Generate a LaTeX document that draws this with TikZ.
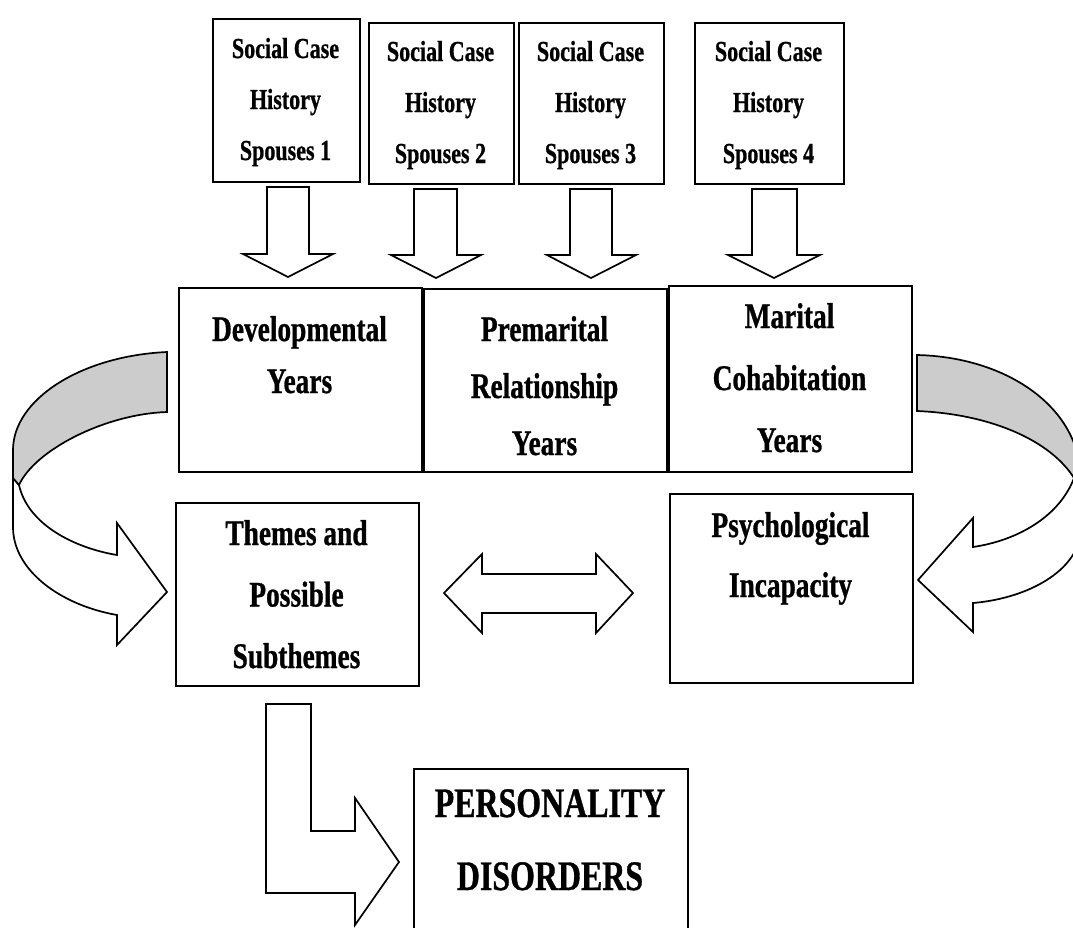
\documentclass[tikz,border=0pt]{standalone}
\usepackage{fontspec}
\newfontfamily\dfont{Liberation Serif}[FakeStretch=0.76,FakeBold=0.8]
\newcommand\fsz[2]{\fontsize{#1}{#2}\selectfont\dfont\bfseries}
\definecolor{bandgray}{RGB}{204,204,204}
\tikzset{
  box/.style={draw, line width=2pt, inner sep=0pt, anchor=north west},
  lbl/.style={align=center, anchor=base, inner sep=0pt},
  blk/.style={draw, line width=1.7pt, fill=white, line join=miter},
  band/.style={draw, line width=1.7pt, fill=bandgray, line join=miter}
}
\begin{document}
\begin{tikzpicture}[x=1pt,y=-1pt]
\useasboundingbox (0,0) rectangle (1073,927);
\begin{scope}
\clip (0,0) rectangle (1073,927);
\fill[white] (0,0) rectangle (1073,927);
% top boxes
\node[box, minimum width=147pt, minimum height=163pt] (s1) at (212,18) {};
\node[box, minimum width=145pt, minimum height=161pt] (s2) at (368,22) {};
\node[box, minimum width=145pt, minimum height=161pt] (s3) at (518,22) {};
\node[box, minimum width=149pt, minimum height=161pt] (s4) at (694,22) {};
\node[lbl, font=\fsz{29}{51}] (t1) at (285.5,160) {Social Case\\History\\Spouses 1};
\node[lbl, font=\fsz{29}{51}] (t2) at (440.5,163) {Social Case\\History\\Spouses 2};
\node[lbl, font=\fsz{29}{51}] (t3) at (590.5,163) {Social Case\\History\\Spouses 3};
\node[lbl, font=\fsz{29}{51}] (t4) at (768.5,163) {Social Case\\History\\Spouses 4};
% down arrows
\draw[blk] (267,187) -- (267,254) -- (243,254) -- (288,277) -- (333,254) -- (309,254) -- (309,187) -- cycle;
\draw[blk] (414,189) -- (414,255) -- (391,255) -- (436,278) -- (481,255) -- (457,255) -- (457,189) -- cycle;
\draw[blk] (570,189) -- (570,255) -- (547,255) -- (591,278) -- (636,255) -- (612,255) -- (612,189) -- cycle;
\draw[blk] (752,189) -- (752,255) -- (728,255) -- (774,278) -- (820,255) -- (797,255) -- (797,189) -- cycle;
% middle boxes
\node[box, minimum width=243pt, minimum height=184pt] (dev) at (178,287) {};
\node[box, minimum width=243pt, minimum height=183pt] (pre) at (423,288) {};
\node[box, minimum width=243pt, minimum height=186pt] (mar) at (668,285) {};
\node[lbl, font=\fsz{36}{52}] (td) at (299.5,393) {Developmental\\Years};
\node[lbl, font=\fsz{36}{57}] (tp) at (544.5,455) {Premarital\\Relationship\\Years};
\node[lbl, font=\fsz{36}{62}] (tm) at (789.5,452) {Marital\\Cohabitation\\Years};
% lower boxes
\node[box, minimum width=243pt, minimum height=183pt] (thm) at (175,502) {};
\node[box, minimum width=243pt, minimum height=189pt] (psy) at (669,493) {};
\node[lbl, font=\fsz{36}{61.5}] (tt) at (296.5,668) {Themes and\\Possible\\Subthemes};
\node[lbl, font=\fsz{36}{60}] (ty) at (790.5,597) {Psychological\\Incapacity};
% personality box
\node[box, minimum width=274pt, minimum height=180pt] (per) at (413,768) {};
\node[lbl, font=\fsz{42}{73}] (tz) at (550,890) {PERSONALITY\\DISORDERS};
% double arrow
\draw[blk] (444,593) -- (482,554) -- (482,574) -- (596,574) -- (596,554) -- (633,593) -- (596,633) -- (596,613) -- (482,613) -- (482,633) -- cycle;
% bent arrow
\draw[blk] (266,704) -- (311,704) -- (311,831) -- (355,831) -- (355,798) -- (399,862) -- (355,925) -- (355,893) -- (266,893) -- cycle;
% left curved arrow
\draw[blk] (19,485) .. controls (28,525) and (75,548) .. (117,555) -- (117,523) -- (167,592) -- (117,645) -- (117,615) .. controls (60,605) and (13,570) .. (13,527) -- (13,478) -- cycle;
\draw[band] (167,352) .. controls (80,356) and (13,400) .. (13,450) -- (13,478) -- (19,485) .. controls (35,450) and (105,414) .. (167,412) -- cycle;
% right curved arrow
\draw[blk] (1074,478) .. controls (1060,515) and (1020,540) .. (973,547) -- (973,518) -- (918,580) -- (973,632) -- (973,603) .. controls (1030,598) and (1076,570) .. (1080,535) -- (1080,485) -- cycle;
\draw[band] (917,355) .. controls (1005,357) and (1075,405) .. (1080,470) -- (1080,485) -- (1074,478) .. controls (1050,440) and (990,414) .. (917,411) -- cycle;
\end{scope}
\end{tikzpicture}
\end{document}
